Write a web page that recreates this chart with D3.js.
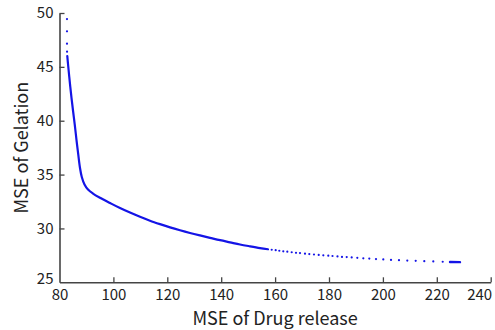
<!DOCTYPE html>
<html>
<head>
<meta charset="utf-8">
<script src="https://cdn.jsdelivr.net/npm/d3@7"></script>
<style>
  html, body { margin: 0; padding: 0; background: #fff; }
  svg { display: block; }
  text { font-family: "Noto Sans CJK KR", "Noto Sans", sans-serif; fill: #222; }
</style>
</head>
<body>
<svg id="chart" width="495" height="330"></svg>
<script>
// ---- Data ----
const xTicks = [80, 100, 120, 140, 160, 180, 200, 220, 240];
const yTicks = [25, 30, 35, 40, 45, 50];

// sparse points above the front (top)
const topDrug = [82.78, 82.78, 82.78, 82.80];
const topGel  = [49.44, 48.30, 47.15, 46.41];

// dense part of the Pareto front (drawn as a continuous line)
const solidDrug = [82.89, 83.23, 83.82, 84.45, 85.08, 85.68, 86.31, 86.98, 87.61, 88.27, 89.28, 90.58, 92.43, 95.03,
                   98.74, 102.45, 106.16, 109.87, 113.58, 117.29, 121.00, 124.71, 128.42, 132.13, 135.84, 139.56,
                   143.27, 146.98, 150.69, 154.40, 157.37];
const solidGel  = [46.01, 45.08, 43.59, 42.11, 40.81, 39.60, 38.21, 36.82, 35.61, 34.77, 34.08, 33.61, 33.24, 32.85,
                   32.36, 31.89, 31.47, 31.08, 30.72, 30.40, 30.10, 29.83, 29.58, 29.35, 29.13, 28.91,
                   28.71, 28.51, 28.34, 28.18, 28.07];

// sparse part of the front (individual points)
const dotDrug = [158.74, 160.22, 161.56, 163.04, 164.53, 166.16, 167.76, 169.24, 171.09, 172.69, 174.43, 176.18, 177.89, 179.74, 181.30, 183.15, 184.82, 186.57, 188.42, 190.50, 192.73, 194.95, 197.44, 200.15, 203.01, 205.97, 209.05, 212.17, 215.36, 218.70, 222.19];
const dotGel  = [28.02, 27.98, 27.93, 27.88, 27.84, 27.79, 27.74, 27.71, 27.66, 27.62, 27.58, 27.54, 27.50, 27.47, 27.44, 27.40, 27.36, 27.34, 27.31, 27.27, 27.23, 27.20, 27.16, 27.12, 27.08, 27.05, 27.02, 26.99, 26.96, 26.94, 26.91];

// cluster of points at the right end
const endDrug = [224.9, 228.6];
const endGel  = [26.88, 26.87];

// ---- Layout ----
const svg = d3.select("#chart");
const x = d3.scaleLinear().domain([80, 240]).range([59.5, 490.7]);
const y = d3.scaleLinear().domain([25, 50]).range([282.3, 13]);
const blue = "#1414e6";
const axisColor = "#444";
const font = '"Noto Sans CJK KR", "Noto Sans", sans-serif';

// x axis (ticks point inward)
const gx = svg.append("g").attr("transform", `translate(0,${y(25)})`)
  .call(d3.axisBottom(x).tickValues(xTicks).tickSizeInner(-5).tickSizeOuter(0).tickPadding(7));
// y axis
const gy = svg.append("g").attr("transform", `translate(${x(80)},0)`)
  .call(d3.axisLeft(y).tickValues(yTicks).tickSizeInner(-5).tickSizeOuter(0).tickPadding(6));

[gx, gy].forEach(g => {
  g.select(".domain").attr("stroke", axisColor).attr("stroke-width", 1.6);
  g.selectAll(".tick line").attr("stroke", axisColor).attr("stroke-width", 1.3);
  g.selectAll(".tick text").attr("font-size", 15).attr("font-family", font).attr("fill", "#222");
});
gx.selectAll(".tick").filter(d => d === 80).select("line").remove();
gy.selectAll(".tick").filter(d => d === 25).select("line").remove();
gy.selectAll(".tick").filter(d => d === 25).select("text").attr("dy", "0.1em");
// last x label sits inside the frame, right-aligned near the axis end
gx.selectAll(".tick").filter(d => d === 240).select("text").attr("text-anchor", "end").attr("x", 1);

// axis titles
svg.append("text")
  .attr("x", (x(80) + x(240)) / 2).attr("y", 325)
  .attr("text-anchor", "middle").attr("font-size", 18).attr("font-family", font)
  .text("MSE of Drug release");
svg.append("text")
  .attr("transform", `translate(28,${(y(25) + y(50)) / 2}) rotate(-90)`)
  .attr("text-anchor", "middle").attr("font-size", 18).attr("font-family", font)
  .text("MSE of Gelation");

// ---- Marks ----
const solid = solidDrug.map((d, i) => [d, solidGel[i]]);
const line = d3.line().x(d => x(d[0])).y(d => y(d[1])).curve(d3.curveCatmullRom.alpha(0.5));
svg.append("path").datum(solid)
  .attr("d", line).attr("fill", "none").attr("stroke", blue)
  .attr("stroke-width", 2.2).attr("stroke-linecap", "round");

const topPts = topDrug.map((d, i) => [d, topGel[i]]);
svg.append("g").selectAll("circle").data(topPts).join("circle")
  .attr("cx", d => x(d[0])).attr("cy", d => y(d[1])).attr("r", 1.1).attr("fill", blue);

const dots = dotDrug.map((d, i) => [d, dotGel[i]]);
svg.append("g").selectAll("circle").data(dots).join("circle")
  .attr("cx", d => x(d[0])).attr("cy", d => y(d[1])).attr("r", 1.1).attr("fill", blue);

const endPts = endDrug.map((d, i) => [d, endGel[i]]);
svg.append("path").datum(endPts)
  .attr("d", d3.line().x(d => x(d[0])).y(d => y(d[1])))
  .attr("fill", "none").attr("stroke", blue).attr("stroke-width", 2.4).attr("stroke-linecap", "round");
</script>
</body>
</html>
